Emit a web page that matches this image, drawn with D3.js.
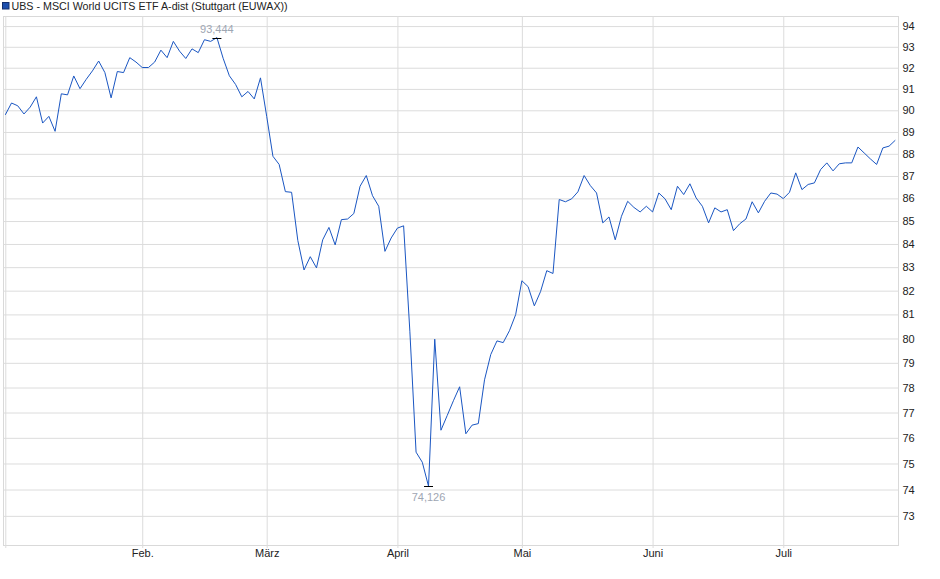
<!DOCTYPE html>
<html>
<head>
<meta charset="utf-8">
<script src="https://cdn.jsdelivr.net/npm/d3@7"></script>
<style>
  body { margin: 0; background: #fff; }
  svg { display: block; font-family: "Liberation Sans", Arial, sans-serif; }
</style>
</head>
<body>
<div id="chart"></div>
<script>
// Chart data (closing prices per trading day, 2025)
const title = "UBS - MSCI World UCITS ETF A-dist (Stuttgart (EUWAX))";
const monthLabels = ["Jan.", "Feb.", "März", "April", "Mai", "Juni", "Juli"];

const jan = [89.79, 90.34, 90.21, 89.83, 90.15, 90.63, 89.41, 89.72, 89.03, 90.77, 90.72,
  91.61, 91.01, 91.45, 91.85, 92.32, 91.77, 90.58, 91.82, 91.77, 92.48, 92.27];
const feb = [92.01, 92.01, 92.27, 92.84, 92.48, 93.26, 92.79, 92.44, 92.9, 92.72,
  93.34, 93.26, 93.444, 92.45, 91.62, 91.21, 90.63, 90.88, 90.53, 91.52];
const mar = [89.72, 87.89, 87.52, 86.3, 86.27, 84.15, 82.88, 83.45, 82.97, 84.18, 84.72,
  83.96, 85.06, 85.09, 85.33, 86.54, 87.02, 86.12, 85.65, 83.68, 84.26];
const apr = [84.69, 84.79, 80.3, 75.44, 75.05, 74.126, 79.97, 76.3, 76.88, 77.47,
  78.03, 76.16, 76.5, 76.56, 78.31, 79.34, 79.9, 79.83, 80.32, 80.99];
const mai = [82.42, 82.17, 81.36, 81.96, 82.85, 82.73, 85.95, 85.85, 85.98, 86.29, 87.02,
  86.57, 86.24, 84.92, 85.18, 84.18, 85.21, 85.87, 85.6, 85.4, 85.65];
const jun = [85.4, 86.24, 85.98, 85.5, 86.54, 86.17, 86.65, 86.02, 85.65, 84.92, 85.58,
  85.4, 85.5, 84.58, 84.88, 85.09, 85.85, 85.36, 85.87, 86.24, 86.19];
const jul = [85.99, 86.27, 87.14, 86.39, 86.62, 86.69, 87.29, 87.59, 87.23, 87.55,
  87.59, 87.59, 88.31, 88.04, 87.77, 87.52, 88.27, 88.35, 88.62];

const yTicks = d3.range(73, 95);

// Dimensions
const width = 940;
const height = 579;
const plot = { left: 3, right: 898, top: 16, bottom: 545 };

const monthly = [jan, feb, mar, apr, mai, jun, jul];
const closes = monthly.flat();
// index of first trading day in each month
const monthStart = monthly.map((m, i) => d3.sum(monthly.slice(0, i), (a) => a.length));

const fmt = (v) => v.toFixed(3).replace(".", ",");

const svg = d3
  .select("#chart")
  .append("svg")
  .attr("width", width)
  .attr("height", height);

// Scales
const xScale = d3
  .scaleLinear()
  .domain([0, closes.length - 1])
  .range([5.3, 895.3]);

const yScale = d3
  .scaleLog()
  .domain([71.91, 94.49])
  .range([plot.bottom, plot.top]);

// Frame
svg
  .append("rect")
  .attr("x", plot.left + 0.5)
  .attr("y", plot.top + 0.5)
  .attr("width", plot.right - plot.left)
  .attr("height", plot.bottom - plot.top)
  .attr("fill", "none")
  .attr("stroke", "#d9d9d9");

// Y axis with horizontal grid lines (right side)
const yAxis = d3
  .axisRight(yScale)
  .tickValues(yTicks)
  .tickFormat(d3.format("d"))
  .tickSizeInner(-(plot.right - plot.left))
  .tickSizeOuter(0)
  .tickPadding(4);

const yG = svg
  .append("g")
  .attr("transform", `translate(${plot.right + 0.5}, 0)`)
  .call(yAxis);
yG.select(".domain").remove();
yG.selectAll(".tick line").attr("stroke", "#dcdcdc");
yG.selectAll(".tick text")
  .attr("fill", "#222")
  .style("font-size", "11px")
  .style("font-family", "'Liberation Sans', Arial, sans-serif");

// X axis: month grid lines and labels
const xAxis = d3
  .axisBottom(xScale)
  .tickValues(monthStart)
  .tickFormat((d, i) => (i === 0 ? "" : monthLabels[i]))
  .tickSizeInner(plot.bottom - plot.top + 3)
  .tickSizeOuter(0)
  .tickPadding(1);

const xG = svg
  .append("g")
  .attr("transform", `translate(0, ${plot.top})`)
  .call(xAxis);
xG.select(".domain").remove();
xG.selectAll(".tick line").attr("stroke", "#dcdcdc");
xG.selectAll(".tick text")
  .attr("fill", "#222")
  .style("font-size", "11px")
  .style("font-family", "'Liberation Sans', Arial, sans-serif");

// Price line
const line = d3
  .line()
  .x((d, i) => xScale(i))
  .y((d) => yScale(d));

svg
  .append("path")
  .datum(closes)
  .attr("fill", "none")
  .attr("stroke", "#1a56c2")
  .attr("stroke-width", 1)
  .attr("stroke-linejoin", "round")
  .attr("d", line);

// High / low markers
const maxIdx = d3.maxIndex(closes);
const minIdx = d3.minIndex(closes);
const extremes = [
  { i: maxIdx, v: closes[maxIdx], dy: -4.5 },
  { i: minIdx, v: closes[minIdx], dy: 15 },
];

svg
  .selectAll(".extreme-mark")
  .data(extremes)
  .enter()
  .append("line")
  .attr("class", "extreme-mark")
  .attr("x1", (d) => xScale(d.i) - 4.5)
  .attr("x2", (d) => xScale(d.i) + 4.5)
  .attr("y1", (d) => Math.round(yScale(d.v)) + 0.5)
  .attr("y2", (d) => Math.round(yScale(d.v)) + 0.5)
  .attr("stroke", "#000")
  .attr("stroke-width", 1);

svg
  .selectAll(".extreme-label")
  .data(extremes)
  .enter()
  .append("text")
  .attr("class", "extreme-label")
  .attr("x", (d) => xScale(d.i))
  .attr("y", (d) => yScale(d.v) + d.dy)
  .attr("text-anchor", "middle")
  .attr("fill", "#9ea6b3")
  .style("font-size", "11px")
  .text((d) => fmt(d.v));

// Title with legend square
svg
  .append("rect")
  .attr("x", 2.5)
  .attr("y", 2.5)
  .attr("width", 6.5)
  .attr("height", 6.5)
  .attr("fill", "#1c4fae")
  .attr("stroke", "#14306e");

svg
  .append("text")
  .attr("x", 11.5)
  .attr("y", 10.2)
  .attr("fill", "#222")
  .style("font-size", "10.7px")
  .text(title);
</script>
</body>
</html>
